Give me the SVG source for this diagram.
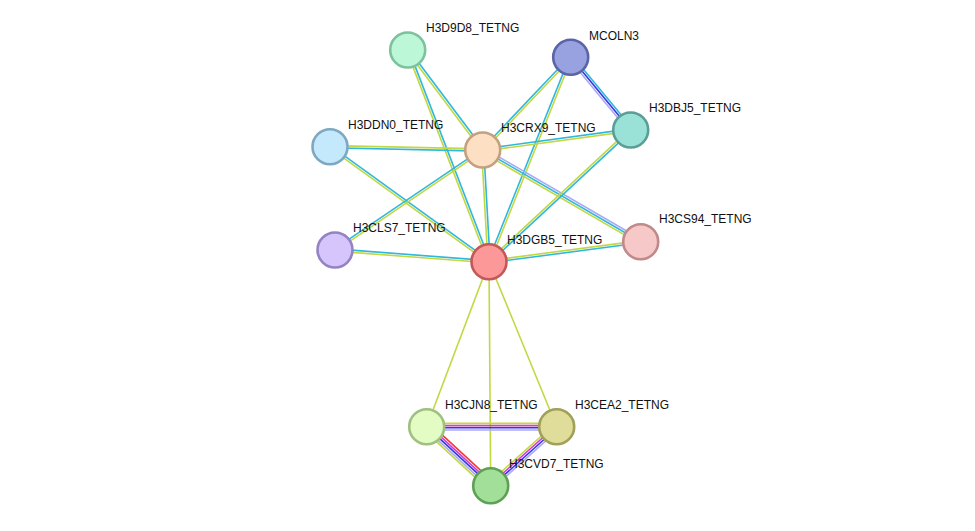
<svg xmlns="http://www.w3.org/2000/svg" width="975" height="531" viewBox="0 0 975 531">
<style>
line{stroke-width:1.6;fill:none}
.y{stroke:#c2d842}
.c{stroke:#2fb8dc}
.b{stroke:#3535e6}
.m{stroke:#d040d0}
.r{stroke:#f03c3c}
.l{stroke:#a9a9f6}
circle{stroke-width:2.6}
text{font-family:"Liberation Sans",Arial,sans-serif;font-size:12px;fill:#111}
</style>
<rect width="975" height="531" fill="#fff"/>
<g id="edges">
<line class="y" x1="406.82" y1="50.66" x2="481.82" y2="150.66"/>
<line class="c" x1="408.58" y1="49.34" x2="483.58" y2="149.34"/>
<line class="y" x1="406.67" y1="50.39" x2="487.97" y2="262.09"/>
<line class="c" x1="408.73" y1="49.61" x2="490.03" y2="261.31"/>
<line class="c" x1="569.9" y1="56.54" x2="481.9" y2="149.24"/>
<line class="y" x1="571.5" y1="58.06" x2="483.5" y2="150.76"/>
<line class="c" x1="569.68" y1="56.89" x2="487.98" y2="261.29"/>
<line class="y" x1="571.72" y1="57.71" x2="490.02" y2="262.11"/>
<line class="c" x1="572.4" y1="55.9" x2="632.4" y2="128.6"/>
<line class="b" x1="570.7" y1="57.3" x2="630.7" y2="130"/>
<line class="l" x1="569.0" y1="58.7" x2="629.0" y2="131.4"/>
<line class="y" x1="330.02" y1="145.6" x2="482.72" y2="148.9"/>
<line class="c" x1="329.98" y1="147.8" x2="482.68" y2="151.1"/>
<line class="c" x1="330.65" y1="145.8" x2="489.65" y2="260.8"/>
<line class="y" x1="329.35" y1="147.6" x2="488.35" y2="262.6"/>
<line class="c" x1="482.55" y1="148.91" x2="630.55" y2="128.91"/>
<line class="y" x1="482.85" y1="151.09" x2="630.85" y2="131.09"/>
<line class="c" x1="482.08" y1="149.09" x2="334.38" y2="249.09"/>
<line class="y" x1="483.32" y1="150.91" x2="335.62" y2="250.91"/>
<line class="y" x1="481.6" y1="150.06" x2="487.9" y2="261.76"/>
<line class="c" x1="483.8" y1="149.94" x2="490.1" y2="261.64"/>
<line class="l" x1="483.8" y1="148.1" x2="641.8" y2="239.8"/>
<line class="c" x1="482.7" y1="150" x2="640.7" y2="241.7"/>
<line class="y" x1="481.6" y1="151.9" x2="639.6" y2="243.6"/>
<line class="y" x1="629.95" y1="129.2" x2="488.25" y2="260.9"/>
<line class="c" x1="631.45" y1="130.8" x2="489.75" y2="262.5"/>
<line class="c" x1="335.08" y1="248.9" x2="489.08" y2="260.6"/>
<line class="y" x1="334.92" y1="251.1" x2="488.92" y2="262.8"/>
<line class="y" x1="488.86" y1="260.61" x2="640.56" y2="240.61"/>
<line class="c" x1="489.14" y1="262.79" x2="640.84" y2="242.79"/>
<line class="y" x1="489" y1="261.7" x2="426.7" y2="426.7"/>
<line class="y" x1="489" y1="261.7" x2="556.7" y2="426.7"/>
<line class="y" x1="489" y1="261.7" x2="490.7" y2="485.7"/>
<line class="y" x1="426.7" y1="423.4" x2="556.7" y2="423.4"/>
<line class="m" x1="426.7" y1="425.6" x2="556.7" y2="425.6"/>
<line class="b" x1="426.7" y1="427.8" x2="556.7" y2="427.8"/>
<line class="l" x1="426.7" y1="430.0" x2="556.7" y2="430.0"/>
<line class="r" x1="429.68" y1="423.46" x2="493.68" y2="482.46"/>
<line class="m" x1="428.19" y1="425.08" x2="492.19" y2="484.08"/>
<line class="b" x1="426.7" y1="426.7" x2="490.7" y2="485.7"/>
<line class="l" x1="425.21" y1="428.32" x2="489.21" y2="487.32"/>
<line class="y" x1="423.72" y1="429.94" x2="487.72" y2="488.94"/>
<line class="y" x1="554.5" y1="424.24" x2="488.5" y2="483.24"/>
<line class="m" x1="555.97" y1="425.88" x2="489.97" y2="484.88"/>
<line class="b" x1="557.43" y1="427.52" x2="491.43" y2="486.52"/>
<line class="l" x1="558.9" y1="429.16" x2="492.9" y2="488.16"/>
</g>
<g id="H3D9D8_TETNG"><circle cx="407.7" cy="50" r="17.5" fill="#bcf7d8" stroke="#7cc29c"/><text x="426" y="32">H3D9D8_TETNG</text></g>
<g id="MCOLN3"><circle cx="570.7" cy="57.3" r="17.5" fill="#99a2e0" stroke="#5a64a6"/><text x="589" y="40">MCOLN3</text></g>
<g id="H3DBJ5_TETNG"><circle cx="630.7" cy="130" r="17.5" fill="#9ae2d8" stroke="#5a9e96"/><text x="649" y="112">H3DBJ5_TETNG</text></g>
<g id="H3DDN0_TETNG"><circle cx="330" cy="146.7" r="17.5" fill="#c4e9fc" stroke="#7ea8c2"/><text x="348" y="129">H3DDN0_TETNG</text></g>
<g id="H3CRX9_TETNG"><circle cx="482.7" cy="150" r="17.5" fill="#fde0c4" stroke="#c2a080"/><text x="501" y="132">H3CRX9_TETNG</text></g>
<g id="H3CLS7_TETNG"><circle cx="335" cy="250" r="17.5" fill="#d6c4fc" stroke="#9482c4"/><text x="353" y="232">H3CLS7_TETNG</text></g>
<g id="H3DGB5_TETNG"><circle cx="489" cy="261.7" r="17.5" fill="#fc9898" stroke="#c25858"/><text x="507" y="244">H3DGB5_TETNG</text></g>
<g id="H3CS94_TETNG"><circle cx="640.7" cy="241.7" r="17.5" fill="#f7c8c8" stroke="#c08a8a"/><text x="659" y="223">H3CS94_TETNG</text></g>
<g id="H3CJN8_TETNG"><circle cx="426.7" cy="426.7" r="17.5" fill="#e2fcc4" stroke="#a0c082"/><text x="445" y="409">H3CJN8_TETNG</text></g>
<g id="H3CEA2_TETNG"><circle cx="556.7" cy="426.7" r="17.5" fill="#e0dc9a" stroke="#a0a05a"/><text x="575" y="409">H3CEA2_TETNG</text></g>
<g id="H3CVD7_TETNG"><circle cx="490.7" cy="485.7" r="17.5" fill="#a2e09a" stroke="#5ea056"/><text x="509" y="468">H3CVD7_TETNG</text></g>
</svg>
